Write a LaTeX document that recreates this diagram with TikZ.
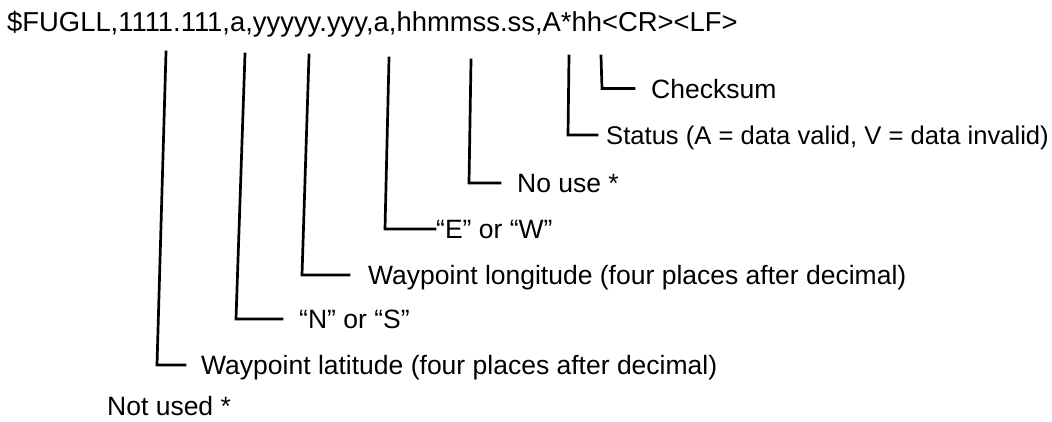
\documentclass[tikz,border=0pt]{standalone}
\usepackage{fontspec}
\setmainfont{Liberation Sans}
\begin{document}
\begin{tikzpicture}[x=1pt,y=-1pt,
  conn/.style={line width=2.7pt, line cap=rect, line join=miter},
  lbl/.style={anchor=west, inner sep=0pt, text height=19pt, text depth=0pt, font=\fontsize{26.5}{30}\selectfont},
  hdrstyle/.style={anchor=base west, inner sep=0pt, font=\fontsize{27.4}{30}\selectfont}]
\useasboundingbox (0,0) rectangle (1052,422);
\node[hdrstyle] (hdr) at (7,32) {\$FUGLL,1111.111,a,yyyyy.yyy,a,hhmmss.ss,A*hh<CR><LF>};
% top ends of the connectors, under the header
\coordinate (tLat) at (166,52);
\coordinate (tNS)  at (245,54);
\coordinate (tLon) at (309,55);
\coordinate (tEW)  at (389,58);
\coordinate (tNo)  at (471,60);
\coordinate (tSt)  at (569,56);
\coordinate (tCk)  at (601,56);
% x of the lower ends (the scan leans slightly)
\coordinate (bLat) at (157,0);
\coordinate (bNS)  at (236,0);
\coordinate (bLon) at (302,0);
\coordinate (bEW)  at (385,0);
\coordinate (bNo)  at (469,0);
\coordinate (bSt)  at (568,0);
\coordinate (bCk)  at (602,0);
% labels
\node[lbl] (ck)  at (651,88.6)  {Checksum};
\node[lbl, font=\fontsize{25.6}{30}\selectfont] (st) at (606,135) {Status (A = data valid, V = data invalid)};
\node[lbl] (no)  at (517,183)  {No use *};
\node[lbl] (ew)  at (436,229)  {“E” or “W”};
\node[lbl] (lon) at (368,275)  {Waypoint longitude (four places after decimal)};
\node[lbl] (ns)  at (299,319)  {“N” or “S”};
\node[lbl] (lat) at (201,365)  {Waypoint latitude (four places after decimal)};
\node[lbl] (nu)  at (107,406)  {Not used *};
% connectors
\draw[conn] (tCk)  -- (bCk |- ck.west)   -- ([xshift=-17pt]ck.west);
\draw[conn] (tSt)  -- (bSt |- st.west)   -- ([xshift=-9pt]st.west);
\draw[conn] (tNo)  -- (bNo |- no.west)   -- ([xshift=-17pt]no.west);
\draw[conn] (tEW)  -- (bEW |- ew.west)   -- ([xshift=-1pt]ew.west);
\draw[conn] (tLon) -- (bLon |- lon.west) -- ([xshift=-19pt]lon.west);
\draw[conn] (tNS)  -- (bNS |- ns.west)   -- ([xshift=-17pt]ns.west);
\draw[conn] (tLat) -- (bLat |- lat.west) -- ([xshift=-16pt]lat.west);
\end{tikzpicture}
\end{document}
